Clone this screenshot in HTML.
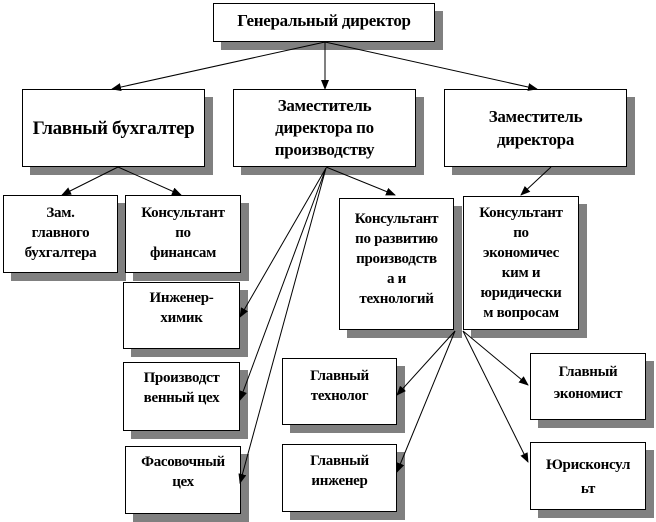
<!DOCTYPE html>
<html><head><meta charset="utf-8"><style>
body{margin:0;width:656px;height:522px;background:#fff;position:relative;overflow:hidden;}
.b{position:absolute;background:#fff;border:1px solid #000;box-sizing:border-box;text-align:center;font-family:"Liberation Serif","Times New Roman",Times,serif;font-weight:700;font-size:15px;line-height:20px;box-shadow:8px 8px 0 #808080;letter-spacing:-0.3px;}
svg{position:absolute;left:0;top:0;}
</style></head><body>
<div class="b" style="left:213px;top:3px;width:222px;height:39px;font-size:17px;padding-top:7px;">Генеральный директор</div>
<div class="b" style="left:22px;top:89px;width:183px;height:78px;font-size:19px;padding-top:29px;">Главный бухгалтер</div>
<div class="b" style="left:233px;top:89px;width:183px;height:78px;font-size:17px;line-height:22px;padding-top:5px;">Заместитель<br>директора по<br>производству</div>
<div class="b" style="left:444px;top:89px;width:183px;height:78px;font-size:17px;line-height:23px;padding-top:15px;">Заместитель<br>директора</div>
<div class="b" style="left:3px;top:195px;width:115px;height:78px;padding-top:7px;">Зам.<br>главного<br>бухгалтера</div>
<div class="b" style="left:125px;top:195px;width:116px;height:78px;padding-top:7px;">Консультант<br>по<br>финансам</div>
<div class="b" style="left:339px;top:198px;width:115px;height:132px;padding-top:10px;">Консультант<br>по развитию<br>производств<br>а и<br>технологий</div>
<div class="b" style="left:463px;top:196px;width:116px;height:134px;padding-top:6px;">Консультант<br>по<br>экономичес<br>ким и<br>юридически<br>м вопросам</div>
<div class="b" style="left:123px;top:282px;width:117px;height:67px;padding-top:5px;">Инженер-<br>химик</div>
<div class="b" style="left:123px;top:362px;width:117px;height:69px;padding-top:5px;">Производст<br>венный цех</div>
<div class="b" style="left:125px;top:446px;width:116px;height:68px;padding-top:5px;">Фасовочный<br>цех</div>
<div class="b" style="left:282px;top:358px;width:115px;height:67px;padding-top:7px;">Главный<br>технолог</div>
<div class="b" style="left:282px;top:444px;width:115px;height:68px;padding-top:6px;">Главный<br>инженер</div>
<div class="b" style="left:530px;top:353px;width:116px;height:67px;padding-top:7px;line-height:22px;">Главный<br>экономист</div>
<div class="b" style="left:530px;top:442px;width:116px;height:68px;padding-top:10px;line-height:24px;">Юрисконсул<br>ьт</div>
<svg width="656" height="522" viewBox="0 0 656 522">
<defs><marker id="a" markerWidth="10" markerHeight="8" refX="9" refY="4" orient="auto" markerUnits="userSpaceOnUse"><path d="M0,0 L10,4 L0,8 z" fill="#000"/></marker></defs>
<g stroke="#000" stroke-width="1" fill="none" marker-end="url(#a)">
<line x1="325" y1="42" x2="112" y2="89"/>
<line x1="325" y1="42" x2="325" y2="89"/>
<line x1="325" y1="42" x2="537" y2="89"/>
<line x1="118" y1="167" x2="62" y2="195"/>
<line x1="118" y1="167" x2="181" y2="195"/>
<line x1="326" y1="167" x2="395" y2="195"/>
<line x1="551" y1="167" x2="521" y2="195"/>
<line x1="326" y1="168" x2="240" y2="317"/>
<line x1="326" y1="168" x2="240" y2="400"/>
<line x1="326" y1="168" x2="240" y2="483"/>
<line x1="455" y1="331" x2="397" y2="395"/>
<line x1="455" y1="331" x2="397" y2="472"/>
<line x1="463" y1="331" x2="528" y2="385"/>
<line x1="463" y1="331" x2="528" y2="462"/>
</g></svg>
</body></html>
